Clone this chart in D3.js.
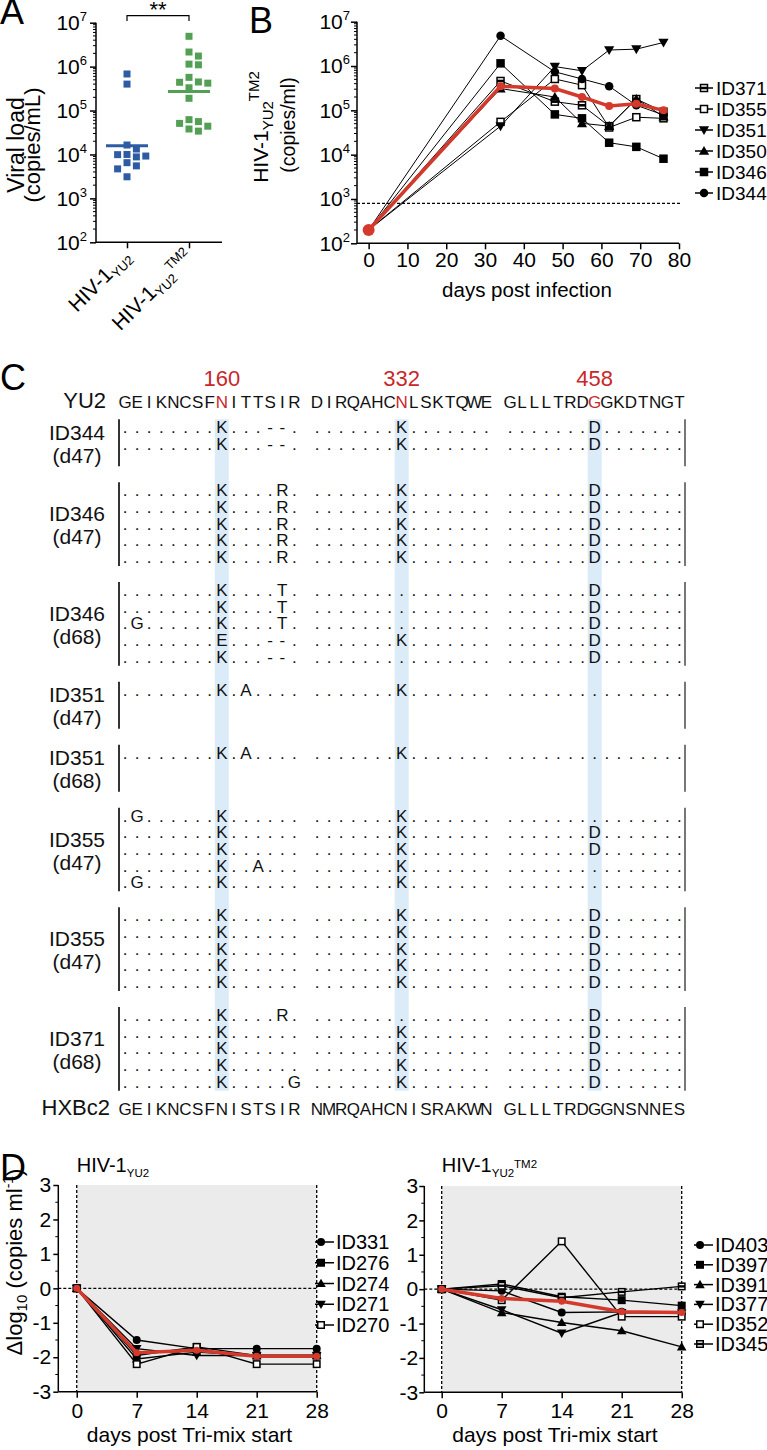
<!DOCTYPE html>
<html>
<head>
<meta charset="utf-8">
<script src="https://d3js.org/d3.v7.min.js"></script>
<style>
  body { margin: 0; background: #fff; }
  svg { font-family: "Liberation Sans", Arial, sans-serif; }
</style>
</head>
<body>
<div id="fig"></div>
<script>
// ---------- panel A: viral load per virus ----------
var aCategories = ["YU2", "YU2TM2"];
var aYU2 = [6.8e5, 4.0e5, 1.64e4, 1.33e4, 1.0e4, 9.2e3, 9.9e3, 8.8e3, 6.5e3, 5.5e3, 4.7e3, 3.1e3];
var aTM2 = [4.9e6, 2.15e6, 1.74e6, 1.14e6, 1.1e6, 5.7e5, 4.47e5, 4.2e5, 4.4e5, 3.3e5, 1.9e5,
            6.2e4, 5.6e4, 5.1e4, 4.4e4, 3.8e4, 3.4e4];
var aMedian = [1.58e4, 2.73e5];
var logTicks = [1e2, 1e3, 1e4, 1e5, 1e6, 1e7];

// ---------- panel B: HIV-1 YU2 TM2 course ----------
var bDays = [0, 34, 48, 55, 62, 69, 76];
var bNames = ["ID371", "ID355", "ID351", "ID350", "ID346", "ID344"];
var bID371 = [200, 4.6e5, 1.57e5, 1.3e5, 4.4e4, 1.8e5, 9.3e4];
var bID355 = [200, 5.5e4, 5.1e5, 3.7e5, 4.1e4, 7.0e4, 6.6e4];
var bID351 = [200, 4.4e4, 9.7e5, 7.8e5, 2.3e6, 2.4e6, 3.4e6];
var bID350 = [200, 3.1e5, 2.0e5, 5.1e4, 4.4e4, 1.8e5, 7.2e4];
var bID346 = [200, 1.15e6, 8.1e4, 6.6e4, 1.86e4, 1.5e4, 8.1e3];
var bID344 = [200, 4.8e6, 7.4e5, 5.1e5, 3.5e5, 1.3e5, 7.9e4];
var bMean  = [200, 3.5e5, 3.1e5, 2.0e5, 1.25e5, 1.4e5, 1.0e5];
var bLimit = 800;
var bXTicks = [0, 10, 20, 30, 40, 50, 60, 70, 80];

// ---------- panel C: env sequences (3 stretches of 15 residues) ----------
var cRef = ["GEIKNCSFNITTSIR", "DIRQAHCNLSKTQWE", "GLLLTRDGGKDTNGT"];
var cHxb = ["GEIKNCSFNISTSIR", "NMRQAHCNISRAKWN", "GLLLTRDGGNSNNES"];
var cSites = ["160", "332", "458"];
var cSiteCols = [8, 22, 37];
var cIds  = ["ID344", "ID346", "ID346", "ID351", "ID351", "ID355", "ID355", "ID371"];
var cDays = ["(d47)", "(d47)", "(d68)", "(d47)", "(d68)", "(d47)", "(d47)", "(d68)"];
var sK = ".......K.......", sD = ".......D.......", s0 = "...............";
var cRows = [
  [["........K...--.", sK, sD],
   ["........K...--.", sK, sD]],
  [["........K....R.", sK, sD],
   ["........K....R.", sK, sD],
   ["........K....R.", sK, sD],
   ["........K....R.", sK, sD],
   ["........K....R.", sK, sD]],
  [["........K....T.", s0, sD],
   ["........K....T.", s0, sD],
   [".G......K....T.", s0, sD],
   ["........E...--.", sK, sD],
   ["........K...--.", s0, sD]],
  [["........K.A....", sK, s0]],
  [["........K.A....", sK, s0]],
  [[".G......K......", sK, s0],
   ["........K......", sK, sD],
   ["........K......", sK, sD],
   ["........K..A...", sK, s0],
   [".G......K......", sK, s0]],
  [["........K......", sK, sD],
   ["........K......", sK, sD],
   ["........K......", sK, sD],
   ["........K......", sK, sD],
   ["........K......", sK, sD]],
  [["........K....R.", s0, sD],
   ["........K......", sK, sD],
   ["........K......", sK, sD],
   ["........K......", sK, sD],
   ["........K.....G", sK, sD]]
];

// ---------- panel D: Tri-mix therapy ----------
var dDays = [0, 7, 14, 21, 28];
var dYu2Names = ["ID331", "ID276", "ID274", "ID271", "ID270"];
var dID331 = [0, -1.5, -1.75, -1.75, -1.75];
var dID276 = [0, -1.95, -1.7, -1.95, -1.95];
var dID274 = [0, -2.05, -1.85, -1.95, -1.95];
var dID271 = [0, -1.75, -1.95, -1.95, -1.95];
var dID270 = [0, -2.2, -1.7, -2.2, -2.2];
var dYu2Mean = [0, -1.87, -1.8, -1.97, -1.97];
var dTm2Names = ["ID403", "ID397", "ID391", "ID377", "ID352", "ID345"];
var dID403 = [0, -0.05, -0.68, -0.66, -0.7];
var dID397 = [0, 0.15, -0.22, -0.32, -0.48];
var dID391 = [0, -0.68, -0.97, -1.21, -1.68];
var dID377 = [0, -0.6, -1.28, -0.68, -0.7];
var dID352 = [0, -0.32, 1.39, -0.8, -0.8];
var dID345 = [0, 0.1, -0.25, -0.08, 0.08];
var dTm2Mean = [0, -0.27, -0.35, -0.66, -0.68];
var dYTicks = [-3, -2, -1, 0, 1, 2, 3];

// ---------- drawing ----------
var RED = "#d43a2c", BLUE = "#2e5ca3", GREEN = "#53a055", SEQRED = "#c8282c";
var svg = d3.select("#fig").append("svg").attr("width", 767).attr("height", 1450);

function hiv(text, small, subDy, supDy, tm2) {
  text.append("tspan").text("HIV-1");
  text.append("tspan").attr("font-size", small).attr("dy", subDy).text("YU2");
  if (tm2) text.append("tspan").attr("font-size", small).attr("dy", supDy).text("TM2");
}

function marker(g, shape, x, y, s) {
  if (shape === "circle") {
    g.append("circle").attr("cx", x).attr("cy", y).attr("r", s / 2).attr("fill", "#000");
  } else if (shape === "square") {
    g.append("rect").attr("x", x - s / 2).attr("y", y - s / 2).attr("width", s).attr("height", s).attr("fill", "#000");
  } else if (shape === "triUp" || shape === "triDown") {
    var k = shape === "triUp" ? 1 : -1;
    g.append("path").attr("fill", "#000")
      .attr("d", "M" + x + "," + (y - k * s * 0.6) + "L" + (x + s * 0.6) + "," + (y + k * s * 0.45) +
                 "L" + (x - s * 0.6) + "," + (y + k * s * 0.45) + "Z");
  } else {
    var w = s - 1.5;
    g.append("rect").attr("x", x - w / 2).attr("y", y - w / 2).attr("width", w).attr("height", w)
      .attr("fill", "#fff").attr("stroke", "#000").attr("stroke-width", 1.5);
    if (shape === "half")
      g.append("line").attr("x1", x - w / 2).attr("x2", x + w / 2).attr("y1", y).attr("y2", y)
        .attr("stroke", "#000").attr("stroke-width", s * 0.3);
  }
}

function cleanAxis(g) {
  g.attr("font-size", null).attr("font-family", null);
  g.select(".domain").remove();
  g.selectAll(".tick line").attr("stroke", "#000").attr("stroke-width", 1.5);
  g.selectAll(".tick text").attr("fill", "#000");
}

function powerLabels(g, size, sup) {
  g.selectAll(".tick text").each(function(d) {
    var t = d3.select(this).text("").attr("font-size", size);
    t.append("tspan").text("10");
    t.append("tspan").attr("font-size", sup).attr("dy", -size * 0.42).text(Math.round(Math.log10(d)));
  });
}

function minorLog(g, y, x0, len) {
  var v = [];
  for (var e = 2; e < 7; e++) for (var m = 2; m < 10; m++) v.push(m * Math.pow(10, e));
  g.selectAll(null).data(v).enter().append("line")
    .attr("x1", x0 - len).attr("x2", x0)
    .attr("y1", function(d) { return y(d); }).attr("y2", function(d) { return y(d); })
    .attr("stroke", "#000").attr("stroke-width", 1);
}

// panel letters
[["A", 0, 24], ["B", 249, 33], ["C", 0, 390], ["D", 0, 1180]].forEach(function(p) {
  svg.append("text").attr("x", p[1]).attr("y", p[2]).attr("font-size", 36).text(p[0]);
});

// ===== A =====
(function() {
  var g = svg.append("g");
  var y = d3.scaleLog().domain([1e2, 1e7]).range([242.3, 22.7]);
  var x = d3.scalePoint().domain(aCategories).range([127, 189]);
  var ax = g.append("g").attr("transform", "translate(96,0)")
    .call(d3.axisLeft(y).tickValues(logTicks).tickSize(6).tickPadding(3).tickSizeOuter(0));
  cleanAxis(ax);
  powerLabels(ax, 21, 13);
  minorLog(g, y, 96, 3);
  g.append("line").attr("x1", 96).attr("x2", 96).attr("y1", y.range()[1]).attr("y2", y.range()[0])
    .attr("stroke", "#000").attr("stroke-width", 1.5);
  var bx = g.append("g").attr("transform", "translate(0,242.3)")
    .call(d3.axisBottom(x).tickSize(6).tickFormat(""));
  cleanAxis(bx);
  g.append("line").attr("x1", 96).attr("x2", 222).attr("y1", 242.3).attr("y2", 242.3)
    .attr("stroke", "#000").attr("stroke-width", 1.5);

  // category labels
  aCategories.forEach(function(c, i) {
    var t = g.append("text").attr("text-anchor", "end").attr("font-size", 21)
      .attr("transform", "translate(" + (x(c) + 5) + ",258) rotate(-45)");
    hiv(t, 13, 4, -12, i === 1);
  });

  // y title
  g.append("text").attr("transform", "translate(24,145) rotate(-90)").attr("text-anchor", "middle")
    .attr("font-size", 23).text("Viral load");
  g.append("text").attr("transform", "translate(40,145) rotate(-90)").attr("text-anchor", "middle")
    .attr("font-size", 22).text("(copies/mL)");

  // significance bracket
  g.append("path").attr("fill", "none").attr("stroke", "#000").attr("stroke-width", 1.2)
    .attr("d", "M" + x(aCategories[0]) + ",21V15.7H" + x(aCategories[1]) + "V21");
  g.append("text").attr("x", (x(aCategories[0]) + x(aCategories[1])) / 2).attr("y", 17)
    .attr("text-anchor", "middle").attr("font-size", 22).text("**");

  // dodged points
  function dodge(vals, cx) {
    var pts = vals.map(function(v) { return { y: y(v) }; }).sort(function(a, b) { return a.y - b.y; });
    var placed = [];
    pts.forEach(function(p) {
      for (var k = 0; k < 30; k++) {
        var off = (k % 2 ? 1 : -1) * Math.ceil(k / 2) * 4.7;
        var hit = placed.some(function(q) { return Math.abs(q.x - (cx + off)) < 7.5 && Math.abs(q.y - p.y) < 7.5; });
        if (!hit) { p.x = cx + off; placed.push(p); break; }
      }
    });
    return placed;
  }
  [[aYU2, BLUE], [aTM2, GREEN]].forEach(function(s, i) {
    var cx = x(aCategories[i]);
    g.selectAll(null).data(dodge(s[0], cx)).enter().append("rect")
      .attr("x", function(d) { return d.x - 3.5; }).attr("y", function(d) { return d.y - 3.5; })
      .attr("width", 7).attr("height", 7).attr("fill", s[1]);
    g.append("line").attr("x1", cx - 21).attr("x2", cx + 21)
      .attr("y1", y(aMedian[i])).attr("y2", y(aMedian[i]))
      .attr("stroke", s[1]).attr("stroke-width", 3);
  });
})();

// ===== B =====
(function() {
  var g = svg.append("g");
  var y = d3.scaleLog().domain([1e2, 1e7]).range([243.3, 21.7]);
  var x = d3.scaleLinear().domain([-3, 80]).range([357, 679]);
  var ay = g.append("g").attr("transform", "translate(357,0)")
    .call(d3.axisLeft(y).tickValues(logTicks).tickSize(6).tickPadding(1).tickSizeOuter(0));
  cleanAxis(ay);
  powerLabels(ay, 21, 13);
  minorLog(g, y, 357, 3);
  var axb = g.append("g").attr("transform", "translate(0,243.3)")
    .call(d3.axisBottom(x).tickValues(bXTicks).tickSize(6).tickPadding(3).tickSizeOuter(0));
  cleanAxis(axb);
  axb.selectAll(".tick text").attr("font-size", 21);
  g.append("line").attr("x1", 357).attr("x2", 357).attr("y1", 21.7).attr("y2", 243.3).attr("stroke", "#000").attr("stroke-width", 1.5);
  g.append("line").attr("x1", 357).attr("x2", 679).attr("y1", 243.3).attr("y2", 243.3).attr("stroke", "#000").attr("stroke-width", 1.5);

  g.append("line").attr("x1", 357).attr("x2", 680).attr("y1", y(bLimit)).attr("y2", y(bLimit))
    .attr("stroke", "#000").attr("stroke-width", 1.3).attr("stroke-dasharray", "3,2");

  g.append("text").attr("x", 527).attr("y", 297).attr("text-anchor", "middle").attr("font-size", 20.5)
    .text("days post infection");
  var t = g.append("text").attr("transform", "translate(268,127) rotate(-90)").attr("text-anchor", "middle")
    .attr("font-size", 21);
  hiv(t, 15, 5, -14, true);
  g.append("text").attr("transform", "translate(295,125) rotate(-90)").attr("text-anchor", "middle")
    .attr("font-size", 19.5).text("(copies/ml)");

  var series = [bID371, bID355, bID351, bID350, bID346, bID344];
  var shapes = ["half", "open", "triDown", "triUp", "square", "circle"];
  var line = d3.line().x(function(d, i) { return x(bDays[i]); }).y(function(d) { return y(d); });
  series.forEach(function(s) {
    g.append("path").datum(s).attr("d", line).attr("fill", "none").attr("stroke", "#000").attr("stroke-width", 1);
  });
  series.forEach(function(s, k) {
    s.forEach(function(v, i) { if (i > 0) marker(g, shapes[k], x(bDays[i]), y(v), 8.5); });
  });
  g.append("path").datum(bMean).attr("d", line).attr("fill", "none").attr("stroke", RED).attr("stroke-width", 3.5);
  g.selectAll(null).data(bMean).enter().append("circle")
    .attr("cx", function(d, i) { return x(bDays[i]); }).attr("cy", function(d) { return y(d); })
    .attr("r", function(d, i) { return i === 0 ? 6 : 4; }).attr("fill", RED);

  // legend
  var ly = d3.scalePoint().domain(bNames).range([88, 193]);
  bNames.forEach(function(n, k) {
    g.append("line").attr("x1", 695).attr("x2", 713).attr("y1", ly(n)).attr("y2", ly(n)).attr("stroke", "#000").attr("stroke-width", 1.5);
    marker(g, shapes[k], 704, ly(n), 8.5);
    g.append("text").attr("x", 716).attr("y", ly(n) + 7).attr("font-size", 19).text(n);
  });
})();

// ===== C =====
(function() {
  var g = svg.append("g").attr("fill", "#111");
  var col = d3.scaleLinear().domain([0, 14]).range([0, 14 * 12.1]);
  var starts = [125, 317, 510];
  function cx(i) { return starts[Math.floor(i / 15)] + col(i % 15); }

  // group layout
  var top = 419.3, layout = [];
  cRows.forEach(function(rows) {
    var first = top + 14;
    var last = first + (rows.length - 1) * 16.67;
    var bottom = Math.max(last + 3, top + 47);
    layout.push({ top: top, first: first, bottom: bottom });
    top = bottom + 16;
  });
  var hlTop = layout[0].top, hlBottom = layout[layout.length - 1].bottom;

  cSiteCols.forEach(function(c, k) {
    g.append("rect").attr("x", cx(c) - 7).attr("width", 14).attr("y", hlTop).attr("height", hlBottom - hlTop)
      .attr("fill", "#dcebf8");
    g.append("text").attr("x", cx(c)).attr("y", 386).attr("text-anchor", "middle").attr("font-size", 22)
      .attr("fill", SEQRED).text(cSites[k]);
  });

  function seqRow(segs, yy, red) {
    segs.join("").split("").forEach(function(ch, i) {
      g.append("text").attr("x", cx(i)).attr("y", yy).attr("text-anchor", "middle").attr("font-size", 17)
        .attr("fill", red && cSiteCols.indexOf(i) >= 0 ? SEQRED : "#111").text(ch);
    });
  }
  g.append("text").attr("x", 106).attr("y", 408).attr("text-anchor", "end").attr("font-size", 22).text("YU2");
  seqRow(cRef, 408, true);
  var hy = hlBottom + 24;
  g.append("text").attr("x", 110).attr("y", hy).attr("text-anchor", "end").attr("font-size", 22).text("HXBc2");
  seqRow(cHxb, hy, false);

  cRows.forEach(function(rows, k) {
    var L = layout[k];
    var mid = (L.top + L.bottom) / 2;
    g.append("text").attr("x", 77).attr("y", mid - 3).attr("text-anchor", "middle").attr("font-size", 21).text(cIds[k]);
    g.append("text").attr("x", 77).attr("y", mid + 20).attr("text-anchor", "middle").attr("font-size", 21).text(cDays[k]);
    g.append("line").attr("x1", 119).attr("x2", 119).attr("y1", L.top).attr("y2", L.bottom).attr("stroke", "#000").attr("stroke-width", 1.6);
    g.append("line").attr("x1", 685).attr("x2", 685).attr("y1", L.top).attr("y2", L.bottom).attr("stroke", "#555").attr("stroke-width", 1.6);
    rows.forEach(function(r, j) { seqRow(r, L.first + j * 16.67, false); });
  });
})();

// ===== D =====
function drawD(opt) {
  var g = svg.append("g");
  var x = d3.scaleLinear().domain([opt.x0, 28]).range([opt.left, opt.right]);
  var y = d3.scaleLinear().domain([-3, 3]).range([opt.bottom, opt.top]);
  g.append("rect").attr("x", x(0)).attr("y", y(3)).attr("width", x(28) - x(0)).attr("height", y(-3) - y(3))
    .attr("fill", "#ebebeb");
  var ay = g.append("g").attr("transform", "translate(" + opt.left + ",0)")
    .call(d3.axisLeft(y).tickValues(dYTicks).tickFormat(function(d) { return String(d); })
      .tickSize(5).tickPadding(opt.pad).tickSizeOuter(0));
  cleanAxis(ay);
  ay.selectAll(".tick text").attr("font-size", 21);
  g.selectAll(null).data(d3.range(-2.5, 3, 1)).enter().append("line")
    .attr("x1", opt.left - 3).attr("x2", opt.left).attr("y1", function(d) { return y(d); }).attr("y2", function(d) { return y(d); })
    .attr("stroke", "#000");
  var ax = g.append("g").attr("transform", "translate(0," + opt.bottom + ")")
    .call(d3.axisBottom(x).tickValues(dDays).tickSize(6).tickPadding(5).tickSizeOuter(0));
  cleanAxis(ax);
  ax.selectAll(".tick text").attr("font-size", 21);
  g.append("line").attr("x1", opt.left).attr("x2", opt.left).attr("y1", opt.top).attr("y2", opt.bottom).attr("stroke", "#000").attr("stroke-width", 1.5);
  g.append("line").attr("x1", opt.left).attr("x2", opt.right).attr("y1", opt.bottom).attr("y2", opt.bottom).attr("stroke", "#000").attr("stroke-width", 1.5);

  [0, 28].forEach(function(d) {
    g.append("line").attr("x1", x(d)).attr("x2", x(d)).attr("y1", y(3)).attr("y2", y(-3))
      .attr("stroke", "#000").attr("stroke-width", 1.3).attr("stroke-dasharray", "3,2");
  });
  g.append("line").attr("x1", opt.left).attr("x2", x(28)).attr("y1", y(0)).attr("y2", y(0))
    .attr("stroke", "#000").attr("stroke-width", 1.3).attr("stroke-dasharray", "3,2");

  var line = d3.line().x(function(d, i) { return x(dDays[i]); }).y(function(d) { return y(d); });
  opt.series.forEach(function(s) {
    g.append("path").datum(s).attr("d", line).attr("fill", "none").attr("stroke", "#000").attr("stroke-width", 1.4);
  });
  opt.series.forEach(function(s, k) {
    s.forEach(function(v, i) { marker(g, opt.shapes[k], x(dDays[i]), y(v), 8); });
  });
  g.append("path").datum(opt.mean).attr("d", line).attr("fill", "none").attr("stroke", RED).attr("stroke-width", 3.5);
  g.selectAll(null).data(opt.mean).enter().append("circle")
    .attr("cx", function(d, i) { return x(dDays[i]); }).attr("cy", function(d) { return y(d); })
    .attr("r", 3.5).attr("fill", RED);

  g.append("text").attr("x", (opt.left + opt.right) / 2 + 2).attr("y", 1442).attr("text-anchor", "middle")
    .attr("font-size", 21).text("days post Tri-mix start");
  var t = g.append("text").attr("x", x(0)).attr("y", 1172).attr("font-size", 20);
  hiv(t, 11.5, 5, -9, opt.tm2);

  var ly = d3.scalePoint().domain(opt.names).range(opt.legendY);
  opt.names.forEach(function(n, k) {
    g.append("line").attr("x1", opt.legendX).attr("x2", opt.legendX + 19).attr("y1", ly(n)).attr("y2", ly(n))
      .attr("stroke", "#000").attr("stroke-width", 1.5);
    marker(g, opt.shapes[k], opt.legendX + 6, ly(n), 8);
    g.append("text").attr("x", opt.legendX + 21).attr("y", ly(n) + 7).attr("font-size", 20).text(n);
  });
  return g;
}

var dLeft = drawD({ x0: -2.15, left: 58.3, right: 316.7, top: 1185, bottom: 1391.7, pad: 2,
  series: [dID331, dID276, dID274, dID271, dID270], shapes: ["circle", "square", "triUp", "triDown", "open"],
  mean: dYu2Mean, names: dYu2Names, tm2: false, legendX: 315, legendY: [1242, 1325] });
var dRight = drawD({ x0: -2.03, left: 424.3, right: 681.7, top: 1186, bottom: 1392.3, pad: 1,
  series: [dID403, dID397, dID391, dID377, dID352, dID345], shapes: ["circle", "square", "triUp", "triDown", "open", "half"],
  mean: dTm2Mean, names: dTm2Names, tm2: true, legendX: 694, legendY: [1245, 1344] });

var dt = dLeft.append("text").attr("transform", "translate(22,1262) rotate(-90)").attr("text-anchor", "middle")
  .attr("font-size", 22);
dt.append("tspan").text("\u0394log");
dt.append("tspan").attr("font-size", 15).attr("dy", 5).text("10");
dt.append("tspan").attr("dy", -5).text(" (copies ml");
dt.append("tspan").attr("font-size", 14).attr("dy", -9).text("-1");
dt.append("tspan").attr("dy", 9).text(")");
</script>
</body>
</html>
